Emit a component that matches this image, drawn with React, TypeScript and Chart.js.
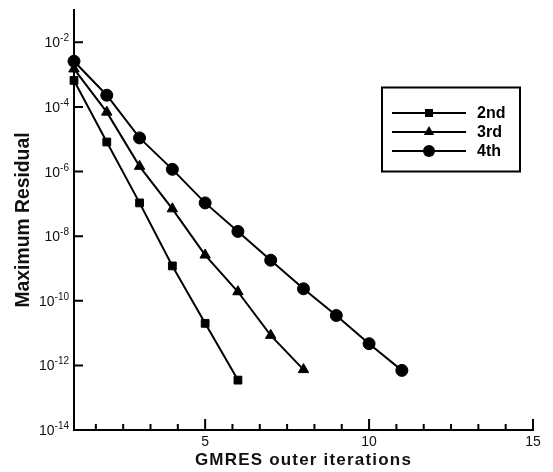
import React, { useEffect, useRef } from 'react';
import { Chart, registerables } from 'chart.js';

Chart.register(...registerables);

// ---- data ----
const iterations2nd = [1, 2, 3, 4, 5, 6];
const residual2nd = [6.6e-4, 8.2e-6, 1.07e-7, 1.2e-9, 2.0e-11, 3.5e-13];

const iterations3rd = [1, 2, 3, 4, 5, 6, 7, 8];
const residual3rd = [1.5e-3, 6.9e-5, 1.45e-6, 7.0e-8, 2.6e-9, 1.9e-10, 8.5e-12, 7.4e-13];

const iterations4th = [1, 2, 3, 4, 5, 6, 7, 8, 9, 10, 11];
const residual4th = [2.6e-3, 2.3e-4, 1.1e-5, 1.17e-6, 1.07e-7, 1.4e-8, 1.8e-9, 2.35e-10, 3.5e-11, 4.7e-12, 7.0e-13];

const seriesLabels = ['2nd', '3rd', '4th'];
const seriesMarkers = ['rect', 'triangle', 'circle'];

const xMin = 1;
const xMax = 15;
const xMajorTicks = [5, 10, 15];
const xMinorStep = 5 / 6;
const yMin = 1e-14;
const yMax = 1e-1;
const yTickExponents = [-2, -4, -6, -8, -10, -12, -14];

const xTitle = 'GMRES outer iterations';
const yTitle = 'Maximum Residual';

const FONT = '"Liberation Sans", Arial, Helvetica, sans-serif';
const INK = '#111';

function drawMarker(ctx: CanvasRenderingContext2D, style: string, x: number, y: number) {
  ctx.beginPath();
  if (style === 'rect') {
    ctx.rect(x - 4, y - 4, 8, 8);
  } else if (style === 'triangle') {
    const r = 6;
    ctx.moveTo(x, y - r);
    ctx.lineTo(x + r * Math.sin((2 * Math.PI) / 3), y - r * Math.cos((2 * Math.PI) / 3));
    ctx.lineTo(x + r * Math.sin((4 * Math.PI) / 3), y - r * Math.cos((4 * Math.PI) / 3));
    ctx.closePath();
  } else {
    ctx.arc(x, y, 6, 0, Math.PI * 2);
  }
  ctx.fill();
}

const axesPlugin = {
  id: 'tecAxes',
  beforeDatasetsDraw(chart: any) {
    const ctx: CanvasRenderingContext2D = chart.ctx;
    const { left, right, top, bottom } = chart.chartArea;
    const xs = chart.scales.x;
    const ys = chart.scales.y;
    ctx.save();
    ctx.strokeStyle = '#000';
    ctx.lineWidth = 2;
    ctx.lineJoin = 'miter';
    ctx.lineCap = 'square';
    ctx.beginPath();
    ctx.moveTo(left, top);
    ctx.lineTo(left, bottom);
    ctx.lineTo(right, bottom);
    ctx.stroke();
    ctx.lineCap = 'butt';
    // x major ticks (inward)
    ctx.beginPath();
    xMajorTicks.forEach((v) => {
      const px = xs.getPixelForValue(v);
      ctx.moveTo(px, bottom);
      ctx.lineTo(px, bottom - 11);
    });
    // x minor ticks
    for (let k = -12; k <= 12; k++) {
      const v = xMajorTicks[0] + k * xMinorStep;
      if (v <= xMin + 1e-6 || v > xMax + 1e-6) continue;
      if (xMajorTicks.some((m) => Math.abs(m - v) < 1e-6)) continue;
      const px = xs.getPixelForValue(v);
      ctx.moveTo(px, bottom);
      ctx.lineTo(px, bottom - 6);
    }
    // y ticks
    yTickExponents.forEach((e) => {
      const py = ys.getPixelForValue(Math.pow(10, e));
      ctx.moveTo(left, py);
      ctx.lineTo(left + 9, py);
    });
    ctx.stroke();

    // x tick labels
    ctx.fillStyle = INK;
    ctx.font = `14px ${FONT}`;
    ctx.textAlign = 'center';
    ctx.textBaseline = 'middle';
    xMajorTicks.forEach((v) => {
      ctx.fillText(String(v), xs.getPixelForValue(v), bottom + 12);
    });

    // y tick labels with superscripts
    yTickExponents.forEach((e) => {
      const py = ys.getPixelForValue(Math.pow(10, e));
      const exp = String(e);
      ctx.font = `10px ${FONT}`;
      ctx.textAlign = 'right';
      ctx.textBaseline = 'alphabetic';
      const ew = ctx.measureText(exp).width;
      const xr = left - 5;
      ctx.fillText(exp, xr, py - 1);
      ctx.font = `14px ${FONT}`;
      ctx.fillText('10', xr - ew, py + 5);
    });

    // x title
    ctx.font = `bold 17px ${FONT}`;
    (ctx as any).letterSpacing = '1.2px';
    ctx.textAlign = 'center';
    ctx.textBaseline = 'middle';
    ctx.fillText(xTitle, (left + right) / 2, bottom + 30);
    (ctx as any).letterSpacing = '0px';

    // y title
    ctx.save();
    ctx.translate(23, (top + bottom) / 2);
    ctx.rotate(-Math.PI / 2);
    ctx.scale(0.92, 1);
    ctx.font = `bold 21px ${FONT}`;
    ctx.textAlign = 'center';
    ctx.textBaseline = 'middle';
    ctx.fillText(yTitle, 0, 0);
    ctx.restore();

    ctx.restore();
  },
  afterDraw(chart: any) {
    const ctx: CanvasRenderingContext2D = chart.ctx;
    ctx.save();
    ctx.strokeStyle = '#000';
    ctx.fillStyle = '#000';
    ctx.lineWidth = 2;
    ctx.strokeRect(382, 87.5, 138, 84);
    const rows = [113, 132, 151];
    chart.data.datasets.forEach((ds: any, i: number) => {
      const y = rows[i];
      ctx.beginPath();
      ctx.moveTo(392, y);
      ctx.lineTo(466, y);
      ctx.lineWidth = 2;
      ctx.stroke();
      drawMarker(ctx, seriesMarkers[i], 429, y);
      ctx.font = `bold 16px ${FONT}`;
      ctx.textAlign = 'left';
      ctx.textBaseline = 'middle';
      ctx.fillText(ds.label, 477, y + 1);
    });
    ctx.restore();
  },
};

function toPoints(xs: number[], ys: number[]) {
  return xs.map((x, i) => ({ x, y: ys[i] }));
}

export default function App() {
  const canvasRef = useRef<HTMLCanvasElement | null>(null);

  useEffect(() => {
    document.body.style.margin = '0';
    const canvas = canvasRef.current;
    if (!canvas) return;
    const common = {
      borderColor: '#000',
      backgroundColor: '#000',
      borderWidth: 2,
      pointBackgroundColor: '#000',
      pointBorderColor: '#000',
      pointBorderWidth: 1,
      showLine: true,
      tension: 0,
      clip: false as any,
    };
    const chart = new Chart(canvas, {
      type: 'scatter',
      data: {
        datasets: [
          { ...common, label: seriesLabels[0], data: toPoints(iterations2nd, residual2nd), pointStyle: seriesMarkers[0] as any, pointRadius: 5.5 },
          { ...common, label: seriesLabels[1], data: toPoints(iterations3rd, residual3rd), pointStyle: seriesMarkers[1] as any, pointRadius: 6 },
          { ...common, label: seriesLabels[2], data: toPoints(iterations4th, residual4th), pointStyle: seriesMarkers[2] as any, pointRadius: 6 },
        ],
      },
      options: {
        animation: false,
        responsive: false,
        devicePixelRatio: 1,
        layout: { padding: { left: 74, top: 10, right: 20, bottom: 42 } },
        scales: {
          x: { type: 'linear', min: xMin, max: xMax, display: false },
          y: { type: 'logarithmic', min: yMin, max: yMax, display: false },
        },
        plugins: {
          legend: { display: false },
          tooltip: { enabled: false },
        },
      },
      plugins: [axesPlugin],
    });
    return () => chart.destroy();
  }, []);

  return (
    <div style={{ width: 553, height: 472, background: '#fff' }}>
      <canvas ref={canvasRef} width={553} height={472} style={{ display: 'block' }} />
    </div>
  );
}
